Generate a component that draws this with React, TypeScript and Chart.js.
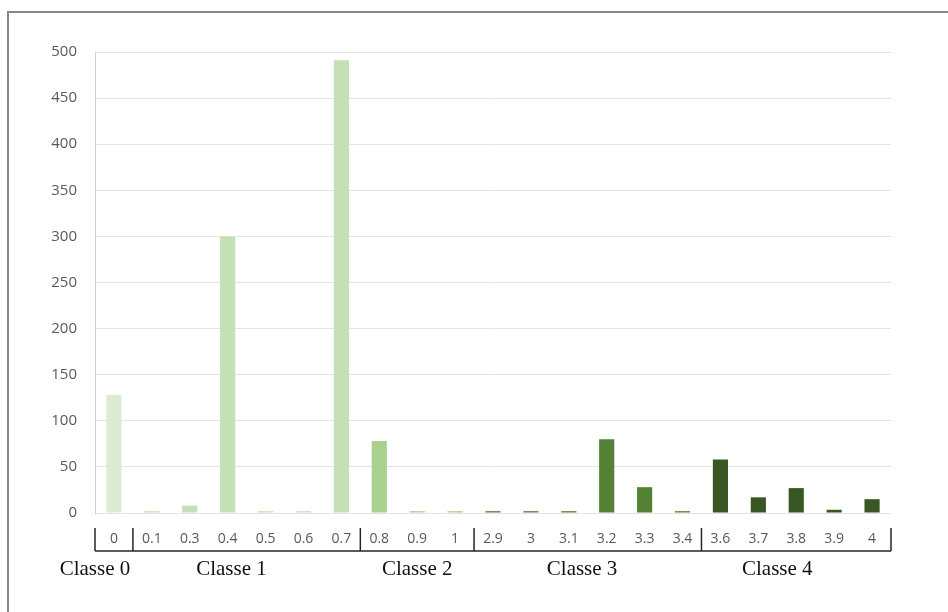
import React, { useEffect, useRef } from "react";
import { Chart, registerables } from "chart.js";

Chart.register(...registerables);

const categories = ["0", "0.1", "0.3", "0.4", "0.5", "0.6", "0.7", "0.8", "0.9", "1", "2.9", "3", "3.1", "3.2", "3.3", "3.4", "3.6", "3.7", "3.8", "3.9", "4"];
const values = [128, 2, 8, 300, 2, 2, 491, 78, 2, 2, 2, 2, 2, 80, 28, 2, 58, 17, 27, 3.5, 15];
const classOf = [0, 1, 1, 1, 1, 1, 1, 2, 2, 2, 3, 3, 3, 3, 3, 3, 4, 4, 4, 4, 4];
const classNames = ["Classe 0", "Classe 1", "Classe 2", "Classe 3", "Classe 4"];
const classColors = ["#dcebd3", "#c5e0b4", "#a9d18e", "#548235", "#385723"];
const yTicks = [0, 50, 100, 150, 200, 250, 300, 350, 400, 450, 500];

const groupPlugin = {
  id: "groupBrackets",
  afterDraw(chart: any) {
    const ctx = chart.ctx;
    const x = chart.scales.x;
    const area = chart.chartArea;
    const n = categories.length;
    const px = (i: number) => x.getPixelForValue(0) + (x.getPixelForValue(n - 1) - x.getPixelForValue(0)) * i / (n - 1);
    const top = area.bottom + 15;
    const bot = area.bottom + 38;
    ctx.save();
    ctx.strokeStyle = "#262626";
    ctx.lineWidth = 1.5;
    ctx.beginPath();
    ctx.moveTo(area.left, bot);
    ctx.lineTo(area.right, bot);
    const bounds: number[] = [area.left];
    for (let i = 1; i < n; i++) {
      if (classOf[i] !== classOf[i - 1]) bounds.push(px(i - 0.5));
    }
    bounds.push(area.right);
    bounds.forEach((b) => {
      ctx.moveTo(b, top);
      ctx.lineTo(b, bot);
    });
    ctx.stroke();
    // group labels
    const labelPos = [-0.5, 3.1, 8.0, 12.35, 17.5];
    ctx.fillStyle = "#111";
    ctx.font = "21px 'Liberation Serif', 'DejaVu Serif', serif";
    ctx.textAlign = "center";
    ctx.textBaseline = "middle";
    classNames.forEach((name, k) => {
      ctx.fillText(name, px(labelPos[k]), area.bottom + 56);
    });
    ctx.restore();
  },
};

export default function App() {
  const ref = useRef<HTMLCanvasElement | null>(null);
  useEffect(() => {
    if (!ref.current) return;
    const chart = new Chart(ref.current, {
      type: "bar",
      data: {
        labels: categories,
        datasets: [
          {
            data: values,
            backgroundColor: classOf.map((c) => classColors[c]),
            barPercentage: 0.4,
            categoryPercentage: 1,
          },
        ],
      },
      options: {
        animation: false,
        responsive: false,
        maintainAspectRatio: false,
        layout: { padding: { left: 0, right: 57, top: 52, bottom: 0 } },
        plugins: { legend: { display: false }, tooltip: { enabled: false } },
        scales: {
          x: {
            grid: { display: false },
            border: { display: false },
            ticks: {
              color: "#595959",
              font: { family: "'Open Sans', sans-serif", size: 14 },
              padding: 10,
              maxRotation: 0,
              autoSkip: false,
            },
            afterFit: (s: any) => {
              s.height = 612 - 513;
            },
          },
          y: {
            min: 0,
            max: 500,
            afterBuildTicks: (s: any) => {
              s.ticks = yTicks.map((v) => ({ value: v }));
            },
            grid: { color: "#e3e3e3", drawTicks: false, lineWidth: 1 },
            border: { display: true, color: "#d0d0d0" },
            ticks: {
              color: "#595959",
              font: { family: "'Open Sans', sans-serif", size: 15 },
              padding: 18,
            },
            afterFit: (s: any) => {
              s.width = 95;
            },
          },
        },
      },
      plugins: [groupPlugin],
    });
    return () => chart.destroy();
  }, []);
  return (
    <div style={{ position: "absolute", left: 0, top: 0, width: 948, height: 612, background: "#fff", overflow: "hidden" }}>
      <div style={{ position: "absolute", left: 7, top: 11, width: 960, height: 620, borderLeft: "2px solid #888", borderTop: "2px solid #888" }} />
      <canvas ref={ref} width={948} height={612} style={{ position: "absolute", left: 0, top: 0 }} />
    </div>
  );
}
